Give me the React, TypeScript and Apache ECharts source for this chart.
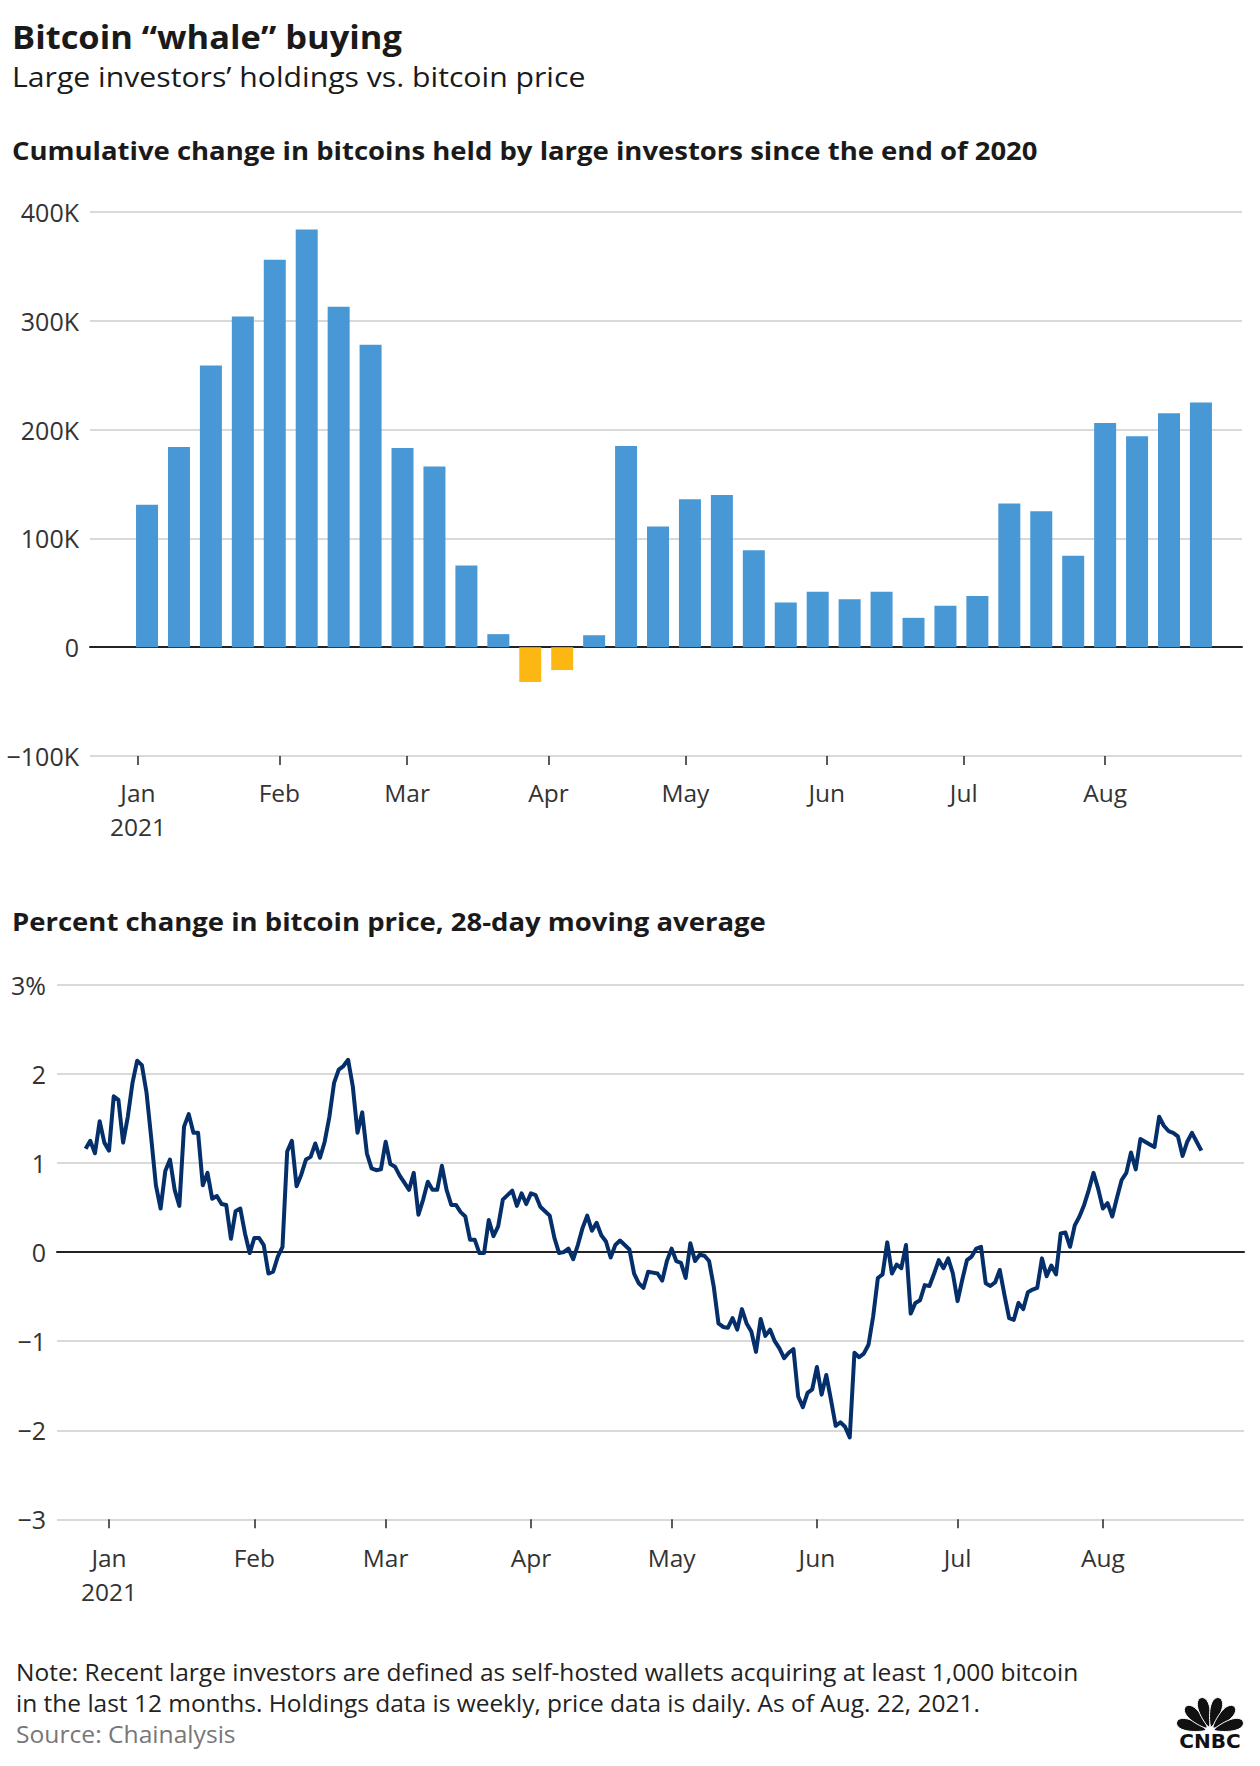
import React, { useEffect, useRef } from "react";
import * as echarts from "echarts";

// ---------- DATA ----------
const BAR_DATES = [
  "2021-01-03", "2021-01-10", "2021-01-17", "2021-01-24", "2021-01-31",
  "2021-02-07", "2021-02-14", "2021-02-21", "2021-02-28",
  "2021-03-07", "2021-03-14", "2021-03-21", "2021-03-28",
  "2021-04-04", "2021-04-11", "2021-04-18", "2021-04-25",
  "2021-05-02", "2021-05-09", "2021-05-16", "2021-05-23", "2021-05-30",
  "2021-06-06", "2021-06-13", "2021-06-20", "2021-06-27",
  "2021-07-04", "2021-07-11", "2021-07-18", "2021-07-25",
  "2021-08-01", "2021-08-08", "2021-08-15", "2021-08-22",
];
// cumulative change in bitcoins held by large investors
const HOLDINGS_CHANGE = [
  131000, 184000, 259000, 304000, 356000,
  384000, 313000, 278000, 183000,
  166000, 75000, 12000, -32000,
  -21000, 11000, 185000, 111000,
  136000, 140000, 89000, 41000, 51000,
  44000, 51000, 27000, 38000,
  47000, 132000, 125000, 84000,
  206000, 194000, 215000, 225000,
];

// daily 28-day moving average of % change in bitcoin price, first day below
const PRICE_START = "2020-12-27";
const PRICE_MA28 = [
  1.16, 1.25, 1.11, 1.47, 1.23, 1.14,
  1.75, 1.71, 1.23, 1.52, 1.90, 2.15, 2.10, 1.79, 1.28, 0.75,
  0.49, 0.91, 1.04, 0.70, 0.52, 1.41, 1.55, 1.34, 1.34, 0.75,
  0.89, 0.60, 0.63, 0.54, 0.53, 0.15, 0.46, 0.49, 0.21, -0.01,
  0.16, 0.16, 0.08, -0.24, -0.22, -0.05, 0.06, 1.13, 1.25, 0.74,
  0.87, 1.04, 1.07, 1.22, 1.06, 1.24, 1.52, 1.90, 2.05, 2.09,
  2.16, 1.86, 1.34, 1.57, 1.11, 0.94, 0.92, 0.93, 1.24, 0.99,
  0.96, 0.86, 0.78, 0.70, 0.89, 0.42, 0.59, 0.79, 0.70, 0.70,
  0.97, 0.70, 0.53, 0.53, 0.45, 0.40, 0.14, 0.14, -0.01, -0.01,
  0.36, 0.18, 0.29, 0.59, 0.64, 0.69, 0.52, 0.66, 0.54, 0.66,
  0.64, 0.51, 0.46, 0.41, 0.16, -0.01, 0.00, 0.04, -0.08, 0.08,
  0.27, 0.41, 0.24, 0.33, 0.19, 0.12, -0.06, 0.08, 0.13, 0.08,
  0.03, -0.24, -0.35, -0.40, -0.22, -0.23, -0.24, -0.32, -0.10, 0.04,
  -0.10, -0.12, -0.29, 0.10, -0.10, -0.03, -0.04, -0.10, -0.39, -0.80,
  -0.84, -0.85, -0.74, -0.87, -0.64, -0.80, -0.89, -1.12, -0.75, -0.94,
  -0.87, -1.00, -1.08, -1.19, -1.13, -1.09, -1.62, -1.74, -1.58, -1.54,
  -1.29, -1.60, -1.38, -1.66, -1.95, -1.91, -1.96, -2.08, -1.13, -1.18,
  -1.14, -1.04, -0.72, -0.29, -0.25, 0.11, -0.24, -0.14, -0.18, 0.08,
  -0.69, -0.57, -0.54, -0.37, -0.38, -0.24, -0.09, -0.18, -0.07, -0.24,
  -0.55, -0.31, -0.09, -0.05, 0.04, 0.06, -0.35, -0.38, -0.34, -0.20,
  -0.48, -0.74, -0.76, -0.57, -0.64, -0.45, -0.42, -0.40, -0.07, -0.27,
  -0.15, -0.25, 0.21, 0.22, 0.06, 0.30, 0.40, 0.53, 0.70, 0.89,
  0.71, 0.49, 0.55, 0.40, 0.61, 0.81, 0.89, 1.12, 0.93, 1.27,
  1.24, 1.21, 1.18, 1.52, 1.42, 1.36, 1.34, 1.30, 1.08, 1.24,
  1.34, 1.24, 1.14,
];

const MONTH_TICKS = [
  "2021-01-01", "2021-02-01", "2021-03-01", "2021-04-01",
  "2021-05-01", "2021-06-01", "2021-07-01", "2021-08-01",
];
const MONTH_LABELS = ["Jan\n2021", "Feb", "Mar", "Apr", "May", "Jun", "Jul", "Aug"];

const TITLE = "Bitcoin \u201cwhale\u201d buying";
const SUBTITLE = "Large investors\u2019 holdings vs. bitcoin price";
const CHART1_TITLE = "Cumulative change in bitcoins held by large investors since the end of 2020";
const CHART2_TITLE = "Percent change in bitcoin price, 28-day moving average";
const NOTE_LINES = [
  "Note: Recent large investors are defined as self-hosted wallets acquiring at least 1,000 bitcoin",
  "in the last 12 months. Holdings data is weekly, price data is daily. As of Aug. 22, 2021.",
];
const SOURCE = "Source: Chainalysis";

// ---------- HELPERS ----------
const DAY = 86400000;
const toTs = (s: string) => {
  const [y, m, d] = s.split("-").map(Number);
  return Date.UTC(y, m - 1, d);
};
const JAN1 = toTs("2021-01-01");
const FONT = "'Open Sans', Lato, sans-serif";
const BLUE = "#4898d6";
const ORANGE = "#fdb713";
const NAVY = "#042f6a";
const GRID = "#d9d9d9";
const AXIS_TEXT = "#333333";
const LABEL_SIZE = 25;

const tickValues = MONTH_TICKS.map(toTs);
const labelFor = (v: number) => {
  let best = 0;
  let bestD = Infinity;
  tickValues.forEach((t, i) => {
    const d = Math.abs(t - v);
    if (d < bestD) {
      bestD = d;
      best = i;
    }
  });
  return bestD < DAY ? MONTH_LABELS[best] : "";
};

const minus = (n: number) => (n < 0 ? "\u2212" + Math.abs(n) : String(n));

function featherPoints(cx: number, cy: number, deg: number) {
  const a = (deg * Math.PI) / 180;
  const ux = Math.cos(a), uy = -Math.sin(a);
  const vx = Math.sin(a), vy = Math.cos(a);
  const d = 19.5, rx = 15, ry = 7.8;
  const pts: number[][] = [];
  for (let k = 0; k < 32; k++) {
    const t = (k / 32) * Math.PI * 2;
    const p = d + rx * Math.cos(t);
    const q = ry * Math.sin(t) * (0.3 + 0.7 * (p / 34.5));
    pts.push([cx + ux * p + vx * q, cy + uy * p + vy * q]);
  }
  return pts;
}

export default function App() {
  const ref = useRef<HTMLDivElement>(null);

  useEffect(() => {
    document.body.style.margin = "0";
    if (!ref.current) return;
    const chart = echarts.init(ref.current, undefined, { renderer: "svg" });

    const barData = BAR_DATES.map((d, i) => [toTs(d), HOLDINGS_CHANGE[i]]);
    const priceStart = toTs(PRICE_START);
    const lineData = PRICE_MA28.map((v, i) => [priceStart + i * DAY, v]);

    const mainX = (gridIndex: number, min: number, max: number, margin: number) => ({
      type: "value",
      gridIndex,
      position: "bottom",
      min,
      max,
      axisLine: { show: false, onZero: false },
      splitLine: { show: false },
      axisTick: {
        show: true,
        customValues: tickValues,
        length: 9,
        lineStyle: { color: "#333", width: 1.6 },
      },
      axisLabel: {
        show: true,
        customValues: tickValues,
        margin,
        color: AXIS_TEXT,
        fontFamily: FONT,
        fontSize: LABEL_SIZE - 0.5,
        lineHeight: 34,
        align: "center",
        showMinLabel: true,
        showMaxLabel: true,
        formatter: (v: number) => labelFor(v),
      },
    });
    const zeroX = (gridIndex: number) => ({
      type: "value",
      gridIndex,
      position: "bottom",
      min: 0,
      max: 1,
      axisLine: { show: true, onZero: true, lineStyle: { color: "#222", width: 2 } },
      axisTick: { show: false },
      axisLabel: { show: false },
      splitLine: { show: false },
    });

    const feathers = [165, 135, 105, 75, 45, 15].map((deg) => ({
      type: "polygon",
      shape: { points: featherPoints(1210, 1731, deg) },
      style: { fill: "#111", stroke: "#ffffff", lineWidth: 1 },
    }));

    const textEl = (
      text: string, x: number, y: number, size: number, weight: any, fill: string, sx: number
    ) => ({
      type: "text",
      x,
      y,
      scaleX: sx,
      style: {
        text,
        fontFamily: FONT,
        fontSize: size,
        fontWeight: weight,
        fill,
        align: "left",
        verticalAlign: "middle",
      },
    });

    chart.setOption({
      animation: false,
      backgroundColor: "#ffffff",
      textStyle: { fontFamily: FONT },
      grid: [
        { left: 90, top: 212, width: 1152, height: 544 },
        { left: 57, top: 985, width: 1187, height: 534.3 },
      ],
      xAxis: [
        mainX(0, JAN1 - 10.5 * DAY, JAN1 + 242 * DAY, 19),
        zeroX(0),
        mainX(1, JAN1 - 11.1 * DAY, JAN1 + 242.1 * DAY, 21),
        zeroX(1),
      ],
      yAxis: [
        {
          type: "value",
          gridIndex: 0,
          min: -100000,
          max: 400000,
          interval: 100000,
          axisLine: { show: false },
          axisTick: { show: false },
          splitLine: { show: true, lineStyle: { color: GRID, width: 2 } },
          axisLabel: {
            margin: 11,
            color: AXIS_TEXT,
            fontFamily: FONT,
            fontSize: LABEL_SIZE,
            formatter: (v: number) => (v === 0 ? "0" : minus(v / 1000) + "K"),
          },
        },
        {
          type: "value",
          gridIndex: 1,
          min: -3,
          max: 3,
          interval: 1,
          axisLine: { show: false },
          axisTick: { show: false },
          splitLine: { show: true, lineStyle: { color: GRID, width: 2 } },
          axisLabel: {
            margin: 11,
            color: AXIS_TEXT,
            fontFamily: FONT,
            fontSize: LABEL_SIZE,
            formatter: (v: number) => (v === 3 ? "3%" : minus(v)),
          },
        },
      ],
      series: [
        {
          type: "bar",
          xAxisIndex: 0,
          yAxisIndex: 0,
          barWidth: 22,
          data: barData,
          itemStyle: {
            color: (p: any) => (p.value[1] < 0 ? ORANGE : BLUE),
          },
          z: 3,
        },
        {
          type: "line",
          xAxisIndex: 2,
          yAxisIndex: 1,
          data: lineData,
          showSymbol: false,
          symbol: "none",
          lineStyle: { color: NAVY, width: 4, join: "round" },
          z: 5,
        },
      ],
      graphic: [
        textEl(TITLE, 12, 36, 32, "bold", "#1a1a1a", 1.077),
        textEl(SUBTITLE, 12, 76, 28, "normal", "#1a1a1a", 1.079),
        textEl(CHART1_TITLE, 12, 150.5, 25.5, "bold", "#1a1a1a", 1.078),
        textEl(CHART2_TITLE, 12, 921.5, 25.5, "bold", "#1a1a1a", 1.078),
        textEl(NOTE_LINES[0], 16, 1671.5, 24, "normal", "#222222", 1.022),
        textEl(NOTE_LINES[1], 16, 1703, 24, "normal", "#222222", 1.02),
        textEl(SOURCE, 16, 1734, 24, "normal", "#777777", 1.027),
        ...feathers,
        {
          type: "text",
          x: 1210,
          y: 1741,
          style: {
            text: "CNBC",
            fontFamily: "'DejaVu Sans', sans-serif",
            fontSize: 20,
            fontWeight: 900,
            fill: "#111",
            align: "center",
            verticalAlign: "middle",
          },
        },
      ],
    });

    return () => chart.dispose();
  }, []);

  return <div ref={ref} style={{ width: 1260, height: 1766 }} />;
}
